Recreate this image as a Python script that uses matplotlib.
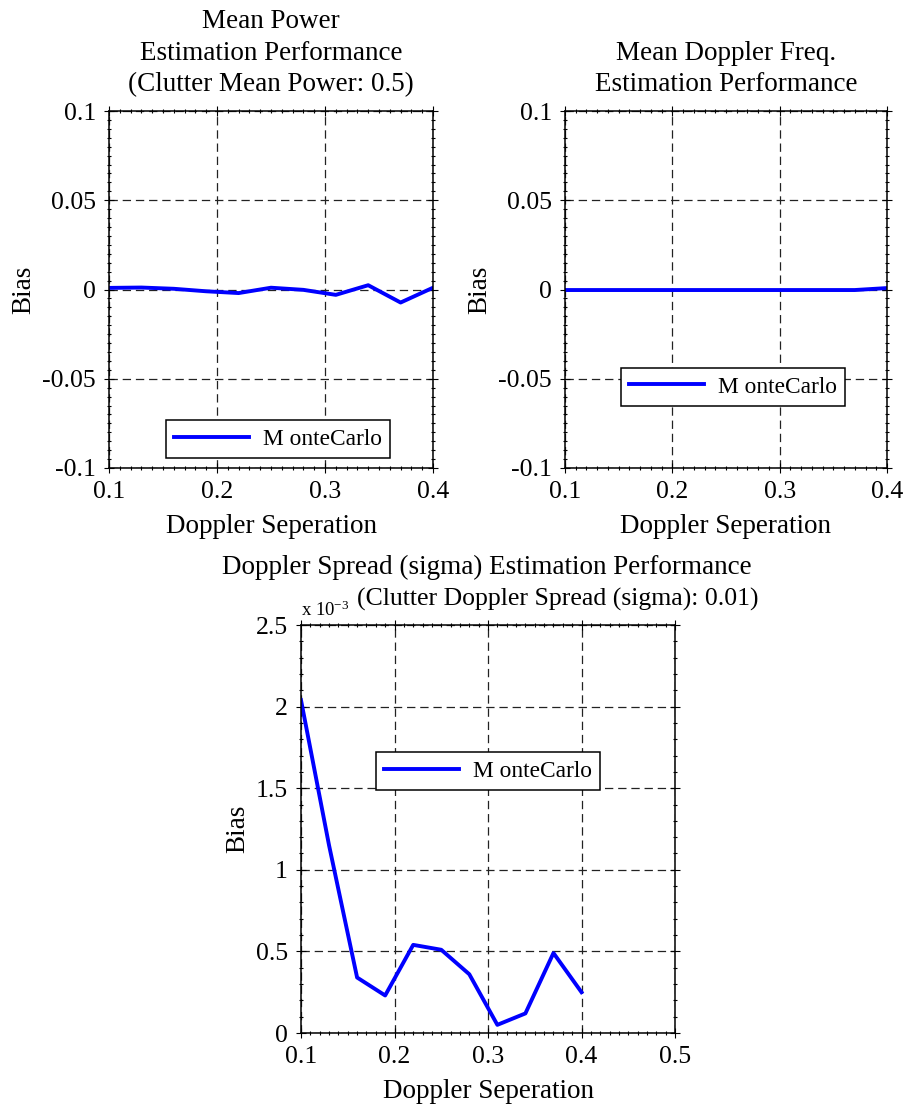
import matplotlib
matplotlib.use("Agg")
import matplotlib.pyplot as plt
from matplotlib.ticker import MultipleLocator, FormatStrFormatter

plt.rcParams['font.family'] = ['Liberation Serif', 'DejaVu Serif']
plt.rcParams['mathtext.fontset'] = 'custom'
plt.rcParams['mathtext.rm'] = 'Liberation Serif'
plt.rcParams['mathtext.it'] = 'Liberation Serif:italic'
plt.rcParams['lines.scale_dashes'] = False

# Doppler separation values (x axis of all three panels)
doppler_sep = [0.10, 0.13, 0.16, 0.19, 0.22, 0.25, 0.28, 0.31, 0.34, 0.37, 0.40]

# Bias of the mean power estimate
power_bias = [0.0009, 0.0011, 0.0004, -0.0010, -0.0020, 0.0010, -0.0002,
              -0.0030, 0.0024, -0.0073, 0.0010]

# Bias of the mean Doppler frequency estimate
freq_bias = [-0.0003, -0.0003, -0.0003, -0.0003, -0.0003, -0.0003, -0.0003,
             -0.0003, -0.0003, -0.0003, 0.0008]

# Bias of the Doppler spread (sigma) estimate, in units of 1e-3
sigma_bias_e3 = [2.04, 1.15, 0.34, 0.23, 0.54, 0.51, 0.36, 0.05, 0.12, 0.49, 0.25]

series_label = "M onteCarlo"
xlabel = "Doppler Seperation"
ylabel = "Bias"

FS_TICK = 18.5
FS_LABEL = 19.5
FS_LEG = 16.8
BLUE = (0, 0, 1)

fig = plt.figure(figsize=(9.05, 11.12), dpi=100)
W, H = 905.0, 1112.0


def px_axes(left, right, top, bottom):
    return fig.add_axes([left / W, 1 - bottom / H, (right - left) / W, (bottom - top) / H])


def style(ax, xmax, ymin, ymax, ymajor, yminor):
    ax.set_xlim(0.1, xmax)
    ax.set_ylim(ymin, ymax)
    ax.xaxis.set_major_locator(MultipleLocator(0.1))
    ax.xaxis.set_minor_locator(MultipleLocator(0.01))
    ax.yaxis.set_major_locator(MultipleLocator(ymajor))
    ax.yaxis.set_minor_locator(MultipleLocator(yminor))
    ax.xaxis.set_major_formatter(FormatStrFormatter('%g'))
    ax.yaxis.set_major_formatter(FormatStrFormatter('%g'))
    ax.tick_params(which='both', direction='inout', top=True, right=True,
                   labelsize=FS_TICK, width=0.8, color='black', pad=6)
    ax.tick_params(which='major', length=7)
    ax.tick_params(which='minor', length=3.5)
    ax.grid(True, which='major', color='#222222', linewidth=0.9,
            linestyle=(0, (6, 3.5)))
    ax.set_axisbelow(True)
    for s in ax.spines.values():
        s.set_linewidth(1.1)
    ax.set_xlabel(xlabel, fontsize=FS_LABEL, labelpad=8)
    ax.set_ylabel(ylabel, fontsize=FS_LABEL, labelpad=4)


def legend(ax, cx, cy):
    leg = ax.legend(loc='center', bbox_to_anchor=(cx / W, 1 - cy / H),
                    bbox_transform=fig.transFigure, fontsize=FS_LEG,
                    fancybox=False, framealpha=1, edgecolor='black',
                    handlelength=3.2, borderpad=0.35, handletextpad=0.6)
    leg.get_frame().set_linewidth(1.1)


# Mean power panel
ax1 = px_axes(109, 433, 111, 468)
ax1.plot(doppler_sep, power_bias, color=BLUE, lw=2.8, label=series_label)
style(ax1, 0.4, -0.1, 0.1, 0.05, 0.005)
ax1.set_title("Mean Power\nEstimation Performance\n(Clutter Mean Power: 0.5)",
              fontsize=FS_LABEL, pad=14.5, linespacing=1.33)
legend(ax1, 278, 439)

# Mean Doppler frequency panel
ax2 = px_axes(565, 887, 111, 468)
ax2.plot(doppler_sep, freq_bias, color=BLUE, lw=2.8, label=series_label)
style(ax2, 0.4, -0.1, 0.1, 0.05, 0.005)
ax2.set_title("Mean Doppler Freq.\nEstimation Performance",
              fontsize=FS_LABEL, pad=14.5, linespacing=1.33)
legend(ax2, 733, 387)

# Doppler spread panel
ax3 = px_axes(301, 675, 625, 1033)
ax3.plot(doppler_sep, sigma_bias_e3, color=BLUE, lw=2.8, label=series_label)
style(ax3, 0.5, 0, 2.5, 0.5, 0.1)
legend(ax3, 488, 771)
fig.text(487 / W, 1 - 567 / H, "Doppler Spread (sigma) Estimation Performance",
         ha='center', va='center', fontsize=FS_LABEL)
fig.text(758 / W, 1 - 599 / H, "(Clutter Doppler Spread (sigma): 0.01)",
         ha='right', va='center', fontsize=18.5)
ax3.text(0.0, 1.012, r"x 10$^{-3}$", transform=ax3.transAxes,
         ha='left', va='bottom', fontsize=13.5)

fig.savefig("out.png", dpi=100)
